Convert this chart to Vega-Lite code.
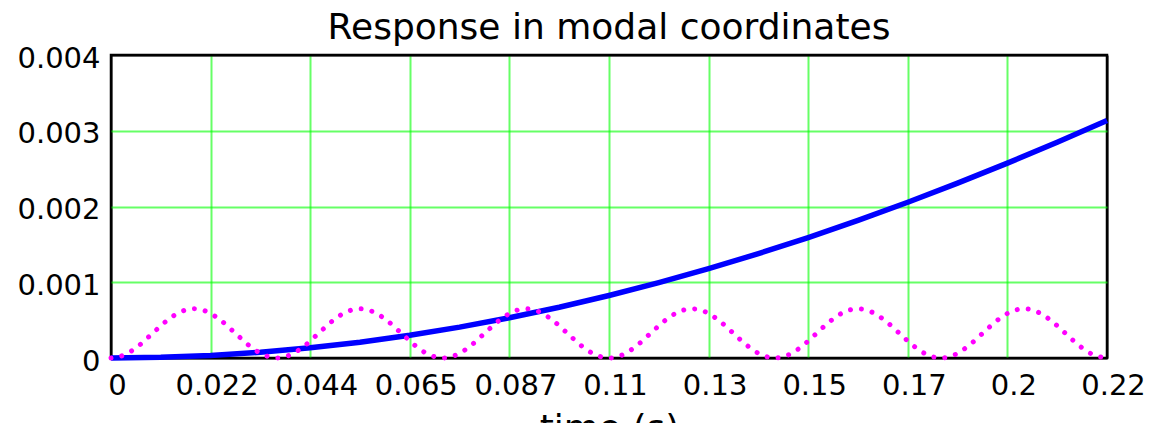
{
  "$schema": "https://vega.github.io/schema/vega-lite/v6.json",
  "width": 996,
  "height": 303,
  "autosize": {"type": "none"},
  "padding": {"left": 111, "top": 55, "right": 44, "bottom": 65},
  "background": "white",
  "title": {"text": "Response in modal coordinates", "font": "DejaVu Sans", "fontSize": 36, "fontWeight": "normal", "color": "black", "frame": "group", "anchor": "middle", "baseline": "alphabetic", "offset": 14, "dy": 45},
  "config": {
    "view": {"stroke": "black", "strokeWidth": 2.5},
    "axis": {"labelFont": "DejaVu Sans", "labelFontSize": 29, "labelColor": "black", "ticks": false, "domain": false, "grid": true, "gridWidth": 2, "labelFlush": false, "labelOverlap": false, "labelBound": false}
  },
  "datasets": {
    "blue": [
      {"t": 0, "y": 0}, {"t": 0.0109, "y": 0.0000084}, {"t": 0.0218, "y": 0.0000335}, {"t": 0.0327, "y": 0.0000754},
      {"t": 0.0436, "y": 0.0001339}, {"t": 0.0545, "y": 0.0002089}, {"t": 0.0654, "y": 0.0003002}, {"t": 0.0763, "y": 0.0004077},
      {"t": 0.0872, "y": 0.0005311}, {"t": 0.0981, "y": 0.0006703}, {"t": 0.109, "y": 0.0008248}, {"t": 0.1199, "y": 0.0009945},
      {"t": 0.1308, "y": 0.0011788}, {"t": 0.1417, "y": 0.0013776}, {"t": 0.1526, "y": 0.0015904}, {"t": 0.1635, "y": 0.0018167},
      {"t": 0.1744, "y": 0.002056}, {"t": 0.1853, "y": 0.002308}, {"t": 0.1962, "y": 0.002572}, {"t": 0.2071, "y": 0.002848},
      {"t": 0.218, "y": 0.003134}
    ],
    "magenta": [
      {"t": 0, "y": 0}, {"t": 0.00303, "y": 0.0000435}, {"t": 0.00606, "y": 0.0001625}, {"t": 0.00908, "y": 0.000325}, {"t": 0.01211, "y": 0.0004875}, {"t": 0.01514, "y": 0.0006065},
      {"t": 0.01817, "y": 0.00065}, {"t": 0.02119, "y": 0.0006065}, {"t": 0.02422, "y": 0.0004875}, {"t": 0.02725, "y": 0.000325}, {"t": 0.03028, "y": 0.0001625}, {"t": 0.03331, "y": 0.0000435},
      {"t": 0.03633, "y": 0}, {"t": 0.03936, "y": 0.0000435}, {"t": 0.04239, "y": 0.0001625}, {"t": 0.04542, "y": 0.000325}, {"t": 0.04844, "y": 0.0004875}, {"t": 0.05147, "y": 0.0006065},
      {"t": 0.0545, "y": 0.00065}, {"t": 0.05753, "y": 0.0006065}, {"t": 0.06056, "y": 0.0004875}, {"t": 0.06358, "y": 0.000325}, {"t": 0.06661, "y": 0.0001625}, {"t": 0.06964, "y": 0.0000435},
      {"t": 0.07267, "y": 0}, {"t": 0.07569, "y": 0.0000435}, {"t": 0.07872, "y": 0.0001625}, {"t": 0.08175, "y": 0.000325}, {"t": 0.08478, "y": 0.0004875}, {"t": 0.08781, "y": 0.0006065},
      {"t": 0.09083, "y": 0.00065}, {"t": 0.09386, "y": 0.0006065}, {"t": 0.09689, "y": 0.0004875}, {"t": 0.09992, "y": 0.000325}, {"t": 0.10294, "y": 0.0001625}, {"t": 0.10597, "y": 0.0000435},
      {"t": 0.109, "y": 0}, {"t": 0.11203, "y": 0.0000435}, {"t": 0.11506, "y": 0.0001625}, {"t": 0.11808, "y": 0.000325}, {"t": 0.12111, "y": 0.0004875}, {"t": 0.12414, "y": 0.0006065},
      {"t": 0.12717, "y": 0.00065}, {"t": 0.13019, "y": 0.0006065}, {"t": 0.13322, "y": 0.0004875}, {"t": 0.13625, "y": 0.000325}, {"t": 0.13928, "y": 0.0001625}, {"t": 0.14231, "y": 0.0000435},
      {"t": 0.14533, "y": 0}, {"t": 0.14836, "y": 0.0000435}, {"t": 0.15139, "y": 0.0001625}, {"t": 0.15442, "y": 0.000325}, {"t": 0.15744, "y": 0.0004875}, {"t": 0.16047, "y": 0.0006065},
      {"t": 0.1635, "y": 0.00065}, {"t": 0.16653, "y": 0.0006065}, {"t": 0.16956, "y": 0.0004875}, {"t": 0.17258, "y": 0.000325}, {"t": 0.17561, "y": 0.0001625}, {"t": 0.17864, "y": 0.0000435},
      {"t": 0.18167, "y": 0}, {"t": 0.18469, "y": 0.0000435}, {"t": 0.18772, "y": 0.0001625}, {"t": 0.19075, "y": 0.000325}, {"t": 0.19378, "y": 0.0004875}, {"t": 0.19681, "y": 0.0006065},
      {"t": 0.19983, "y": 0.00065}, {"t": 0.20286, "y": 0.0006065}, {"t": 0.20589, "y": 0.0004875}, {"t": 0.20892, "y": 0.000325}, {"t": 0.21194, "y": 0.0001625}, {"t": 0.21497, "y": 0.0000435},
      {"t": 0.218, "y": 0}
    ]
  },
  "encoding": {
    "x": {"field": "t", "type": "quantitative", "scale": {"domain": [0, 0.218], "nice": false, "zero": false},
      "axis": {"values": [0, 0.0218, 0.0436, 0.0654, 0.0872, 0.109, 0.1308, 0.1526, 0.1744, 0.1962, 0.218], "format": ".2~g", "labelPadding": 13, "labelOffset": 6, "labelBaseline": "top",
        "gridColor": {"condition": {"test": "datum.value > 0.21 || datum.value == 0", "value": "black"}, "value": "#00ff00"},
        "gridOpacity": {"condition": {"test": "datum.value > 0.21 || datum.value == 0", "value": 1}, "value": 0.6},
        "title": "time (s)", "titleFont": "DejaVu Sans", "titleFontSize": 36, "titleFontWeight": "normal", "titleColor": "black", "titleY": 53, "titleBaseline": "top"}},
    "y": {"field": "y", "type": "quantitative", "scale": {"domain": [0, 0.004], "nice": false},
      "axis": {"values": [0, 0.001, 0.002, 0.003, 0.004], "format": "~g", "labelPadding": 11, "labelOffset": 3, "labelBaseline": "middle",
        "gridColor": {"condition": {"test": "datum.value > 0.0039 || datum.value == 0", "value": "black"}, "value": "#00ff00"},
        "gridOpacity": {"condition": {"test": "datum.value > 0.0039 || datum.value == 0", "value": 1}, "value": 0.6},
        "title": null}}
  },
  "layer": [
    {"data": {"name": "blue"}, "mark": {"type": "line", "color": "#0000ff", "strokeWidth": 5.5}},
    {"data": {"name": "magenta"}, "mark": {"type": "line", "color": "#ff00ff", "strokeWidth": 5, "strokeDash": [0.01, 11], "strokeCap": "round", "interpolate": "monotone"}}
  ]
}
